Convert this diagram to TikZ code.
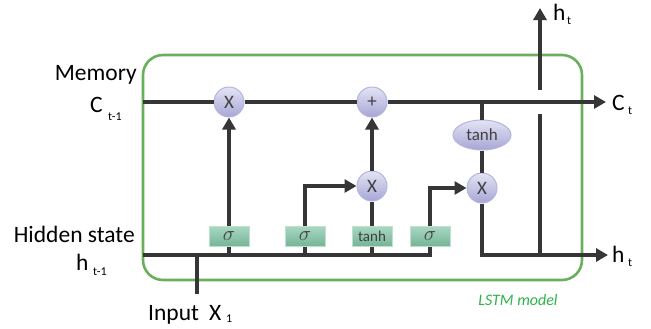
\documentclass[tikz,border=0pt]{standalone}
\usepackage{fontspec}
\setmainfont{Carlito}
\usetikzlibrary{arrows.meta,shapes.geometric}
\definecolor{lineC}{HTML}{363636}
\definecolor{boxG}{HTML}{6AAF5C}
\definecolor{lblG}{HTML}{2DB34A}
\definecolor{opTop}{HTML}{E4E4F4}
\definecolor{opBot}{HTML}{A6A6D6}
\definecolor{opBd}{HTML}{B4B4DE}
\definecolor{gTop}{HTML}{A8D8C2}
\definecolor{gBot}{HTML}{76B498}
\definecolor{gBd}{HTML}{BEE0CF}
\definecolor{txtC}{HTML}{404040}
\tikzset{
  wire/.style={draw=lineC, line width=4.2bp, line join=miter},
  arr/.style={wire, -{Triangle[width=13bp,length=12bp]}},
  opnode/.style={circle, minimum size=30bp, inner sep=0pt, top color=opTop, bottom color=opBot, draw=opBd, line width=1bp, text=txtC, font=\fontsize{19bp}{21bp}\selectfont},
  tanhop/.style={ellipse, minimum width=58bp, minimum height=30bp, inner sep=0pt, top color=opTop, bottom color=opBot, draw=opBd, line width=1bp, text=txtC, font=\fontsize{17bp}{19bp}\selectfont},
  gate/.style={rectangle, minimum width=40bp, minimum height=20bp, inner sep=0pt, top color=gTop, bottom color=gBot, draw=gBd, line width=1bp, text=txtC, font=\fontsize{15bp}{17bp}\selectfont},
  lbl/.style={inner sep=0pt, font=\fontsize{23.5bp}{27bp}\selectfont, text=black},
  sub/.style={inner sep=0pt, font=\fontsize{12bp}{14bp}\selectfont, text=black},
}
\newcommand{\sig}{\fontsize{21bp}{23bp}\selectfont$\sigma$}
\begin{document}
\begin{tikzpicture}[x=1bp,y=-1bp]
\useasboundingbox (0,0) rectangle (651,328);
% green model frame
\draw[boxG, line width=2.6bp, rounded corners=20bp] (143,55) rectangle (582,280);
\node[lblG, inner sep=0pt, font=\fontsize{16bp}{18bp}\selectfont\itshape] (model) at (518,300) {LSTM model};

% coordinates
\coordinate (cin) at (143,102);
\coordinate (cout) at (606,102);
\coordinate (hin) at (143,255);
\coordinate (hend) at (430,255);
\coordinate (hout) at (608,255);
\coordinate (xin) at (197,294);
\coordinate (xj) at (197,255);
\coordinate (vbot) at (540,255);
\coordinate (vgap1) at (540,114);
\coordinate (vgap2) at (540,90);
\coordinate (vtop) at (540,8);
\coordinate (tap) at (482,102);

% operation nodes
\node[opnode] (m1) at (229,102) {X};
\node[opnode] (plus) at (372,102) {+};
\node[opnode] (m2) at (372,186) {X};
\node[opnode] (m3) at (482,188) {X};
\node[tanhop] (th) at (482,135) {tanh};

% gate boxes
\node[gate] (g1) at (229,236) {\sig};
\node[gate] (g2) at (305,236) {\sig};
\node[gate] (g3) at (372,236) {tanh};
\node[gate] (g4) at (430,236) {\sig};

% memory line
\draw[wire] (cin) -- (m1);
\draw[wire] (m1) -- (plus);
\draw[arr] (plus) -- (cout);

% hidden line
\draw[wire] (hin) -- (hend) -- (g4.south);
\draw[wire] (xin) -- (xj);
\draw[wire] (g1.south) -- (g1.south |- hin);
\draw[wire] (g2.south) -- (g2.south |- hin);
\draw[wire] (g3.south) -- (g3.south |- hin);

% gates to ops
\draw[arr] (g1) -- (m1);
\draw[arr] (g2.north) |- (m2.west);
\draw[wire] (g3) -- (m2);
\draw[arr] (m2) -- (plus);
\draw[arr] (g4.north) |- (m3.west);

% output path
\draw[wire] (tap) -- (th);
\draw[wire] (th) -- (m3);
\draw[arr] (m3.south) |- (hout);
\draw[wire] (vbot) -- (vgap1);
\draw[arr] (vgap2) -- (vtop);

% labels
\node[lbl, anchor=east] (lmem) at (137,75) {Memory};
\node[lbl, anchor=base west] (lc) at (90,112) {C};
\node[sub, anchor=base west] (lcs) at (108,120) {t-1};
\node[lbl, anchor=east] (lhid) at (135,234) {Hidden state};
\node[lbl, anchor=base west] (lh) at (76,270) {h};
\node[sub, anchor=base west] (lhs) at (93,275) {t-1};
\node[lbl, anchor=base west] (lin) at (148,320) {Input};
\node[lbl, anchor=base west] (lx) at (209,320) {X};
\node[sub, anchor=base west] (lxs) at (226,322) {1};
\node[lbl, anchor=base west] (lht) at (553,20) {h};
\node[sub, anchor=base west] (lhts) at (567,24) {t};
\node[lbl, anchor=base west] (lct) at (612,110) {C};
\node[sub, anchor=base west] (lcts) at (628,114) {t};
\node[lbl, anchor=base west] (lho) at (612,262) {h};
\node[sub, anchor=base west] (lhos) at (628,266) {t};
\end{tikzpicture}
\end{document}
